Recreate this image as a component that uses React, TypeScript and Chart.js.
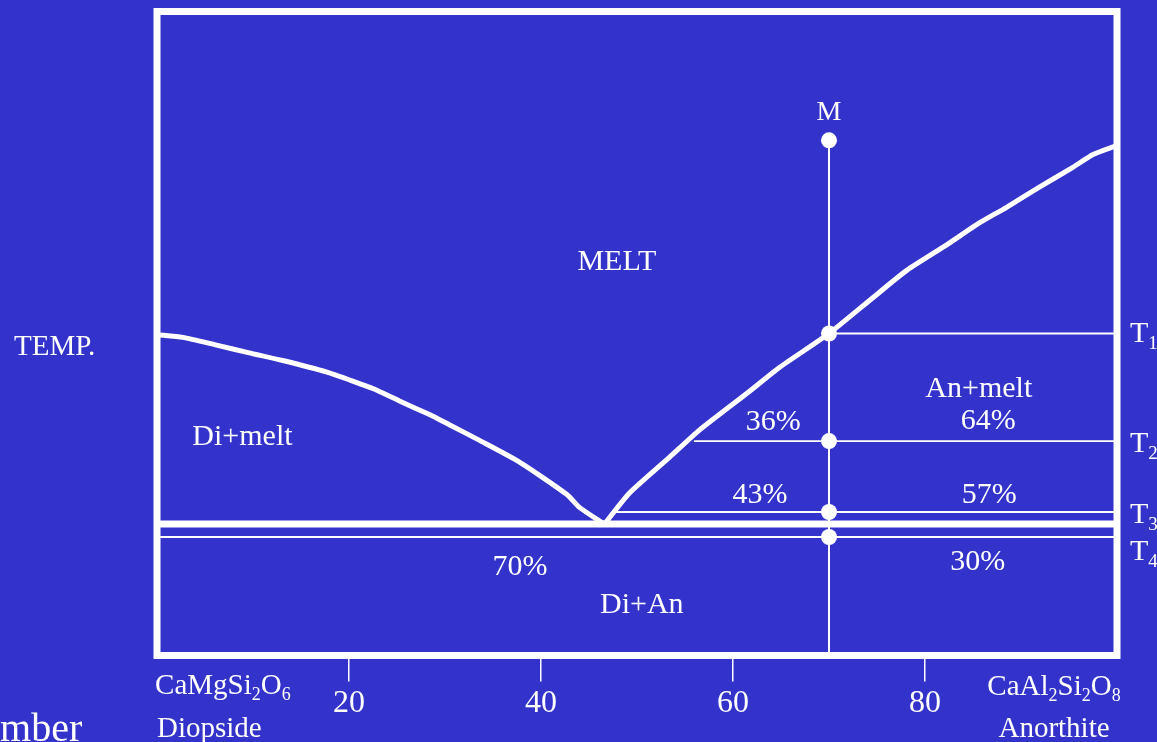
import React, { useEffect, useRef } from "react";
import { Chart, registerables } from "chart.js";

Chart.register(...registerables);

const BG = "#3333CC";
const FG = "#FFFFFF";
const FONT = "'Liberation Serif', 'Times New Roman', serif";

// Composition axis: wt% anorthite (0 = diopside, 100 = anorthite)
const xTickValues = [20, 40, 60, 80];
const xTickLabels = ["20", "40", "60", "80"];

// Liquidus curves (composition, temperature in schematic °C)
const leftLiquidusX = [0, 2.7, 6.2, 9.6, 13.1, 17.7, 20.4, 22.9, 26.0, 28.7, 30.5, 33.6, 37.8, 42.7, 44.0, 46.6];
const leftLiquidusT = [1399, 1397, 1391, 1385, 1379, 1370, 1363, 1356, 1345, 1336, 1329, 1317, 1300, 1275, 1265, 1252];
const rightLiquidusX = [46.6, 49.2, 53.4, 56.5, 61.7, 64.9, 70.0, 74.6, 78.1, 82.3, 85.7, 88.5, 92.0, 95.4, 97.5, 100];
const rightLiquidusT = [1252, 1276, 1304, 1325, 1355, 1374, 1400, 1428, 1449, 1469, 1486, 1498, 1514, 1529, 1539, 1546];

// Bulk composition M and the cooling temperatures
const bulkX = 70;
const tempM = 1550;
const tempT1 = 1400;
const tempT2 = 1316.5;
const tempT3 = 1261.4;
const tempEutectic = 1252;
const tempT4 = 1242;
const tempBottom = 1150;
// start of the isotherms on the liquidus
const t2StartX = 56.0;
const t3StartX = 47.8;

const Y_MIN = 1150;
const Y_MAX = 1650;

type Ann = { text: string; x: number; y: number; align: CanvasTextAlign; size: number };

const annotations: Ann[] = [
  { text: "M", x: 70, y: 1566, align: "center", size: 28 },
  { text: "MELT", x: 47.9, y: 1449, align: "center", size: 30 },
  { text: "Di+melt", x: 8.9, y: 1313.4, align: "center", size: 30 },
  { text: "An+melt", x: 85.6, y: 1350.7, align: "center", size: 30 },
  { text: "64%", x: 86.6, y: 1325.9, align: "center", size: 30 },
  { text: "36%", x: 64.2, y: 1325.1, align: "center", size: 30 },
  { text: "43%", x: 62.8, y: 1268.4, align: "center", size: 30 },
  { text: "57%", x: 86.7, y: 1268.4, align: "center", size: 30 },
  { text: "70%", x: 37.8, y: 1212.5, align: "center", size: 30 },
  { text: "30%", x: 85.5, y: 1216.4, align: "center", size: 30 },
  { text: "Di+An", x: 50.5, y: 1183.0, align: "center", size: 30 },
  { text: "TEMP.", x: -14.9, y: 1383.3, align: "left", size: 29 },
  { text: "T_1", x: 101.35, y: 1393.4, align: "left", size: 30 },
  { text: "T_2", x: 101.35, y: 1308.0, align: "left", size: 30 },
  { text: "T_3", x: 101.35, y: 1252.9, align: "left", size: 30 },
  { text: "T_4", x: 101.35, y: 1224.1, align: "left", size: 30 },
  { text: "CaMgSi_2O_6", x: -0.2, y: 1120.1, align: "left", size: 29 },
  { text: "Diopside", x: 0.0, y: 1086.7, align: "left", size: 29 },
  { text: "CaAl_2Si_2O_8", x: 93.44, y: 1119.3, align: "center", size: 29 },
  { text: "Anorthite", x: 93.44, y: 1086.7, align: "center", size: 29 },
  { text: "mber", x: -16.35, y: 1083.6, align: "left", size: 40 },
];

function parseRich(text: string) {
  const segs: { t: string; sub: boolean }[] = [];
  let i = 0;
  while (i < text.length) {
    if (text[i] === "_" && i + 1 < text.length) {
      segs.push({ t: text[i + 1], sub: true });
      i += 2;
    } else {
      let j = i;
      while (j < text.length && text[j] !== "_") j++;
      segs.push({ t: text.slice(i, j), sub: false });
      i = j;
    }
  }
  return segs;
}

function drawRich(ctx: CanvasRenderingContext2D, a: Ann, px: number, py: number) {
  const segs = parseRich(a.text);
  const subSize = Math.round(a.size * 0.62);
  const widths = segs.map((s) => {
    ctx.font = `${s.sub ? subSize : a.size}px ${FONT}`;
    return ctx.measureText(s.t).width;
  });
  const total = widths.reduce((p, c) => p + c, 0);
  let x = px;
  if (a.align === "center") x = px - total / 2;
  else if (a.align === "right") x = px - total;
  ctx.textAlign = "left";
  ctx.textBaseline = "alphabetic";
  ctx.fillStyle = FG;
  segs.forEach((s, k) => {
    ctx.font = `${s.sub ? subSize : a.size}px ${FONT}`;
    ctx.fillText(s.t, x, s.sub ? py + a.size * 0.22 : py);
    x += widths[k];
  });
}

const bgPlugin = {
  id: "bgPlugin",
  beforeDraw(chart: any) {
    const ctx = chart.ctx;
    ctx.save();
    ctx.fillStyle = BG;
    ctx.fillRect(0, 0, chart.width, chart.height);
    ctx.restore();
  },
};

const framePlugin = {
  id: "framePlugin",
  afterDatasetsDraw(chart: any) {
    const { ctx, chartArea } = chart;
    ctx.save();
    ctx.strokeStyle = FG;
    ctx.lineWidth = 7;
    ctx.lineJoin = "miter";
    ctx.strokeRect(chartArea.left, chartArea.top, chartArea.right - chartArea.left, chartArea.bottom - chartArea.top);
    ctx.restore();
  },
};

const textPlugin = {
  id: "textPlugin",
  afterDraw(chart: any) {
    const ctx = chart.ctx;
    const xs = chart.scales.x;
    const ys = chart.scales.y;
    ctx.save();
    annotations.forEach((a) => {
      drawRich(ctx, a, xs.getPixelForValue(a.x), ys.getPixelForValue(a.y));
    });
    ctx.restore();
  },
};

function pts(xs: number[], ys: number[]) {
  return xs.map((x, i) => ({ x, y: ys[i] }));
}

function lineDS(data: { x: number; y: number }[], width: number, tension = 0) {
  return {
    data,
    showLine: true,
    borderColor: FG,
    backgroundColor: FG,
    borderWidth: width,
    pointRadius: 0,
    pointHoverRadius: 0,
    tension,
    fill: false,
    borderCapStyle: "round" as const,
    borderJoinStyle: "round" as const,
  };
}

export default function App() {
  const ref = useRef<HTMLCanvasElement | null>(null);

  useEffect(() => {
    document.body.style.margin = "0";
    document.body.style.background = BG;
    if (!ref.current) return;
    const chart = new Chart(ref.current, {
      type: "scatter",
      data: {
        datasets: [
          lineDS(pts(leftLiquidusX, leftLiquidusT), 5, 0.2),
          lineDS(pts(rightLiquidusX, rightLiquidusT), 5, 0.2),
          lineDS([{ x: 0, y: tempEutectic }, { x: 100, y: tempEutectic }], 7),
          lineDS([{ x: bulkX, y: tempT1 }, { x: 100, y: tempT1 }], 1.8),
          lineDS([{ x: t2StartX, y: tempT2 }, { x: 100, y: tempT2 }], 1.8),
          lineDS([{ x: t3StartX, y: tempT3 }, { x: 100, y: tempT3 }], 1.8),
          lineDS([{ x: 0, y: tempT4 }, { x: 100, y: tempT4 }], 1.8),
          lineDS([{ x: bulkX, y: tempM }, { x: bulkX, y: tempBottom }], 2),
          {
            data: [tempM, tempT1, tempT2, tempT3, tempT4].map((t) => ({ x: bulkX, y: t })),
            showLine: false,
            pointRadius: 8,
            pointHoverRadius: 8,
            pointBackgroundColor: FG,
            pointBorderWidth: 0,
            borderColor: FG,
            backgroundColor: FG,
          },
        ] as any,
      },
      options: {
        animation: false,
        responsive: false,
        events: [],
        layout: { padding: { left: 157, right: 40, top: 11.5, bottom: 0 } },
        plugins: { legend: { display: false }, tooltip: { enabled: false }, title: { display: false } },
        scales: {
          x: {
            type: "linear",
            position: "bottom",
            min: 0,
            max: 100,
            afterBuildTicks: (scale: any) => {
              scale.ticks = xTickValues.map((value) => ({ value }));
            },
            afterFit: (scale: any) => {
              scale.height = 86.5;
            },
            ticks: {
              color: FG,
              font: { family: FONT, size: 32 },
              padding: 3,
              autoSkip: false,
              maxRotation: 0,
              callback: (v: any) => {
                const i = xTickValues.indexOf(Number(v));
                return i >= 0 ? xTickLabels[i] : "";
              },
            },
            grid: { drawOnChartArea: false, drawTicks: true, tickLength: 26, color: FG, lineWidth: 1.5 },
            border: { display: false },
          },
          y: {
            type: "linear",
            min: Y_MIN,
            max: Y_MAX,
            display: false,
          },
        },
      } as any,
      plugins: [bgPlugin, framePlugin, textPlugin],
    });
    return () => chart.destroy();
  }, []);

  return (
    <div style={{ position: "absolute", left: 0, top: 0, width: 1157, height: 742, background: BG, overflow: "hidden" }}>
      <canvas ref={ref} width={1157} height={742} style={{ display: "block" }} />
    </div>
  );
}
